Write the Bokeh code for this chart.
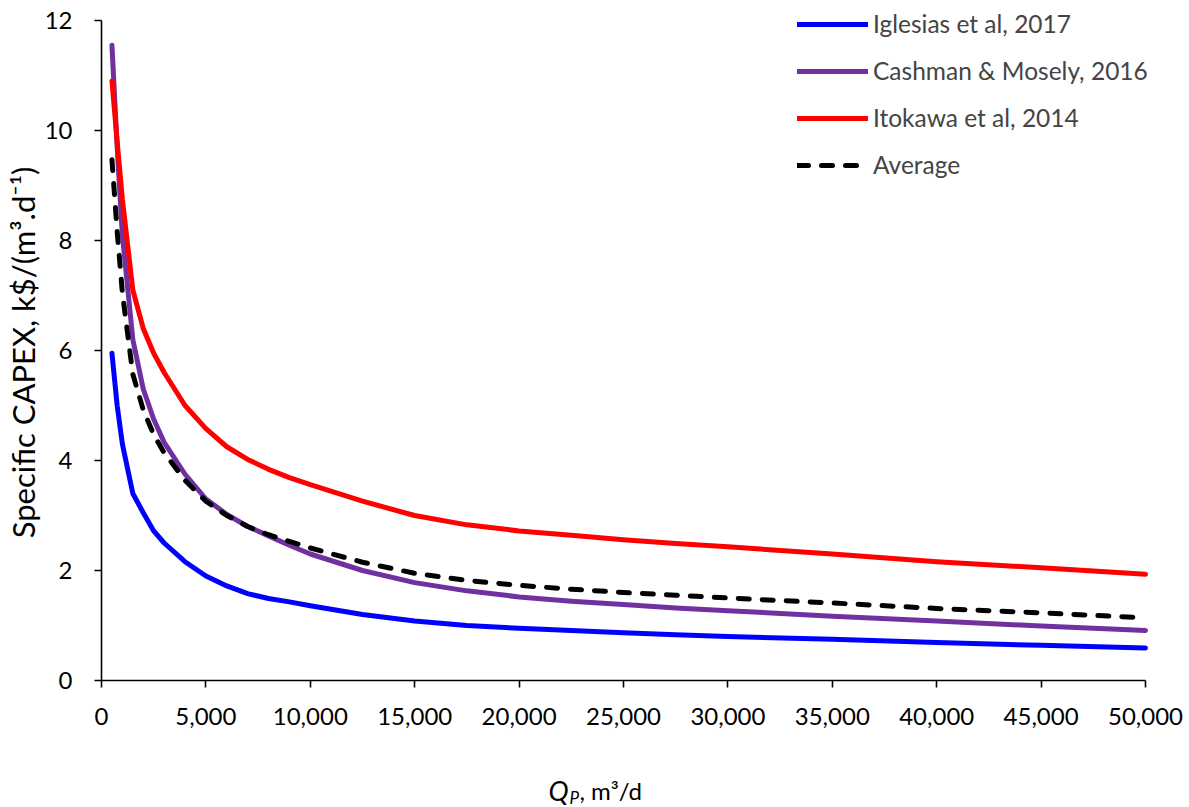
import math
from bokeh.plotting import figure
from bokeh.models import Legend, LegendItem, Label, NumeralTickFormatter, FixedTicker, Range1d
from bokeh.embed import file_html
from bokeh.resources import INLINE

# Plant capacity Q_P (m3/d)
q = [500, 750, 1000, 1500, 2000, 2500, 3000, 4000, 5000, 6000, 7000, 8000, 9000,
     10000, 12500, 15000, 17500, 20000, 22500, 25000, 27500, 30000, 35000, 40000, 45000, 50000]
# Specific CAPEX, k$/(m3.d-1)
iglesias = [5.95, 5.0, 4.3, 3.4, 3.05, 2.72, 2.5, 2.16, 1.9, 1.72, 1.58, 1.49, 1.43,
            1.36, 1.2, 1.08, 1.0, 0.95, 0.91, 0.87, 0.83, 0.80, 0.75, 0.69, 0.64, 0.59]
cashman = [11.55, 9.7, 8.1, 6.2, 5.3, 4.75, 4.33, 3.75, 3.3, 3.02, 2.8, 2.63, 2.46,
           2.3, 2.0, 1.78, 1.63, 1.52, 1.44, 1.38, 1.32, 1.27, 1.17, 1.08, 0.99, 0.91]
itokawa = [10.9, 9.8, 8.75, 7.1, 6.4, 5.95, 5.6, 5.0, 4.58, 4.25, 4.02, 3.84, 3.69,
           3.56, 3.26, 3.0, 2.83, 2.72, 2.64, 2.56, 2.49, 2.43, 2.3, 2.16, 2.05, 1.93]
average = [9.47, 8.17, 7.05, 5.57, 4.92, 4.47, 4.14, 3.64, 3.26, 3.0, 2.80, 2.65, 2.53,
           2.41, 2.15, 1.95, 1.82, 1.73, 1.66, 1.60, 1.55, 1.50, 1.41, 1.31, 1.23, 1.14]

series_names = ["Iglesias et al, 2017", "Cashman & Mosely, 2016", "Itokawa et al, 2014", "Average"]
x_ticks = [0, 5000, 10000, 15000, 20000, 25000, 30000, 35000, 40000, 45000, 50000]
y_ticks = [0, 2, 4, 6, 8, 10, 12]

FONT = "Lato"
W, H = 1189, 807
# plot area in canvas pixels
AX_L, AX_R, AX_T, AX_B = 101, 1145, 20, 680
sx = (AX_R - AX_L) / 50000.0
sy = (AX_B - AX_T) / 12.0

p = figure(width=W, height=H, output_backend="svg", toolbar_location=None,
           x_range=Range1d(-AX_L / sx, 50000 + (W - AX_R) / sx),
           y_range=Range1d(-(H - AX_B) / sy, 12 + AX_T / sy))
p.min_border_left = 0
p.min_border_right = 0
p.min_border_top = 0
p.min_border_bottom = 0
p.outline_line_color = None
p.xgrid.grid_line_color = None
p.ygrid.grid_line_color = None

for ax in (p.xaxis[0], p.yaxis[0]):
    ax.axis_line_color = "black"
    ax.axis_line_width = 1.6
    ax.major_tick_line_color = "black"
    ax.major_tick_line_width = 1.6
    ax.major_tick_out = 7
    ax.major_tick_in = 0
    ax.minor_tick_line_color = None
    ax.major_label_text_font = FONT
    ax.major_label_text_font_size = "24px"
    ax.major_label_text_color = "black"

p.xaxis.fixed_location = 0
p.yaxis.fixed_location = 0
p.xaxis.bounds = (0, 50000)
p.yaxis.bounds = (0, 12)
p.xaxis.ticker = FixedTicker(ticks=x_ticks)
p.yaxis.ticker = FixedTicker(ticks=y_ticks)
p.xaxis.formatter = NumeralTickFormatter(format="0,0")
p.xaxis.major_label_standoff = 20
p.yaxis.major_label_standoff = 22

r1 = p.line(q, iglesias, line_color="#0000FF", line_width=5, line_join="round", line_cap="round")
r2 = p.line(q, cashman, line_color="#7030A0", line_width=5, line_join="round", line_cap="round")
r3 = p.line(q, itokawa, line_color="#FF0000", line_width=5, line_join="round", line_cap="round")
r4 = p.line(q, average, line_color="black", line_width=5, line_dash="11 13",
            line_join="round", line_cap="round")

legend = Legend(items=[LegendItem(label=n, renderers=[r]) for n, r in zip(series_names, [r1, r2, r3, r4])],
                location=(797, 628), padding=0, margin=0, spacing=18,
                glyph_width=71, glyph_height=20, label_standoff=5, label_height=20,
                label_text_font=FONT, label_text_font_size="24.5px",
                border_line_alpha=0, background_fill_alpha=0)
p.add_layout(legend)

# Axis titles
p.add_layout(Label(x=(22 - AX_L) / sx, y=(AX_B - 352) / sy, text="Specific CAPEX, k$/(m³.d⁻¹)",
                   angle=math.pi / 2, text_align="center", text_baseline="middle",
                   text_font=FONT, text_font_size="31px", text_color="black"))
p.add_layout(Label(x=(548 - AX_L) / sx, y=(AX_B - 790) / sy, text="Q", text_font=FONT,
                   text_font_style="italic", text_font_size="27px", text_color="black",
                   text_align="left", text_baseline="middle"))
p.add_layout(Label(x=(569 - AX_L) / sx, y=(AX_B - 797) / sy, text="P", text_font=FONT,
                   text_font_style="italic", text_font_size="17px", text_color="black",
                   text_align="left", text_baseline="middle"))
p.add_layout(Label(x=(579 - AX_L) / sx, y=(AX_B - 790) / sy, text=", m³/d", text_font=FONT,
                   text_font_size="24px", text_color="black",
                   text_align="left", text_baseline="middle"))

open("out.html", "w").write(file_html(p, INLINE))
